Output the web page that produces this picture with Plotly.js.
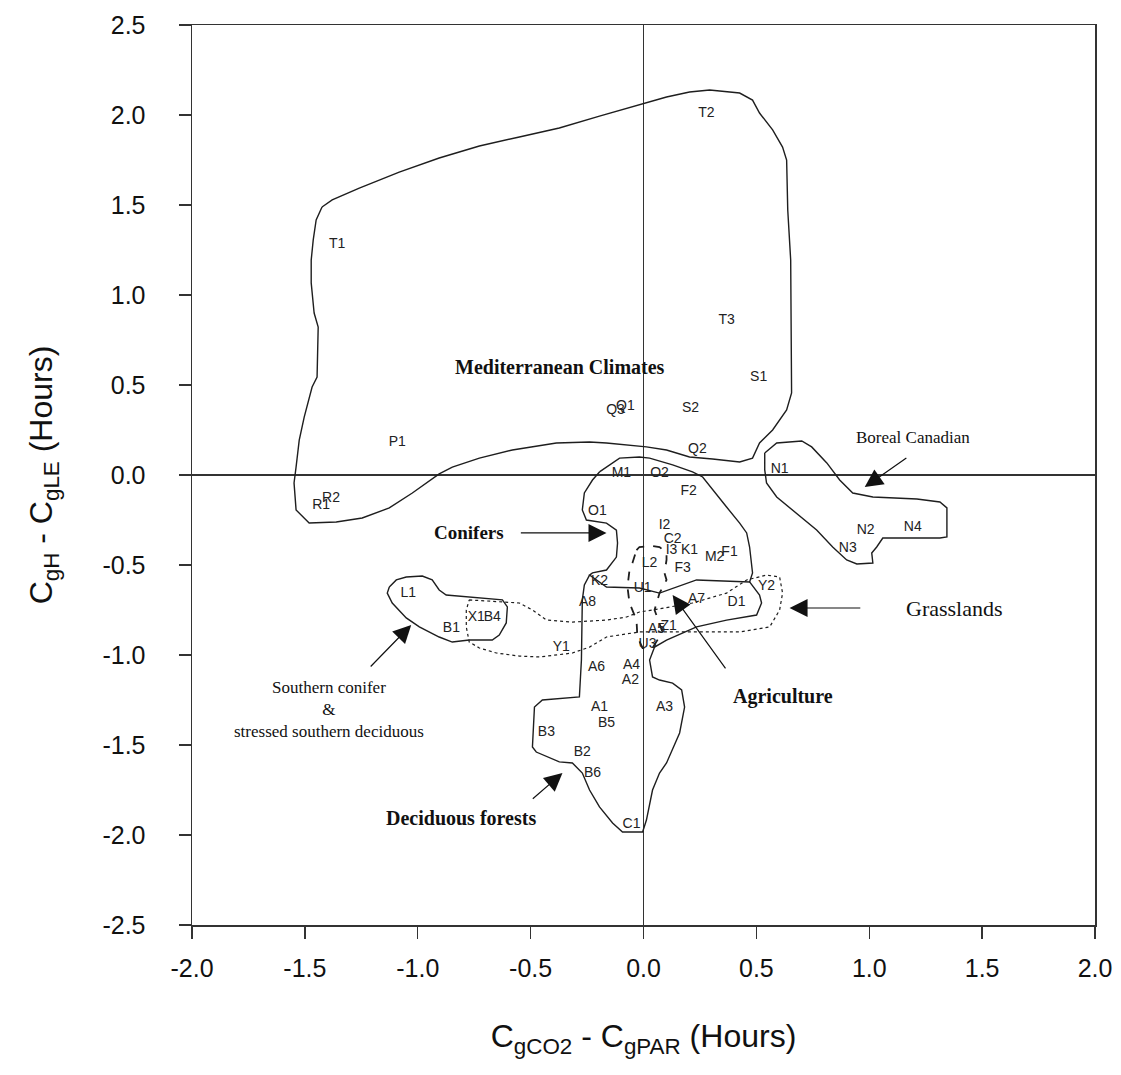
<!DOCTYPE html>
<html>
<head>
<meta charset="utf-8">
<script src="https://cdn.plot.ly/plotly-3.0.1.min.js"></script>
<style>html,body{margin:0;padding:0;background:#fff;}#chart{width:1121px;height:1075px;}</style>
</head>
<body>
<div id="chart"></div>
<script>
// ---- Tick labels ----
const xTickVals = [-2.0,-1.5,-1.0,-0.5,0.0,0.5,1.0,1.5,2.0];
const xTickText = ["-2.0","-1.5","-1.0","-0.5","0.0","0.5","1.0","1.5","2.0"];
const yTickVals = [-2.5,-2.0,-1.5,-1.0,-0.5,0.0,0.5,1.0,1.5,2.0,2.5];
const yTickText = ["-2.5","-2.0","-1.5","-1.0","-0.5","0.0","0.5","1.0","1.5","2.0","2.5"];

// ---- Region outlines (x = CgCO2 - CgPAR, y = CgH - CgLE, hours) ----
const medX = [-1.424,-1.379,-1.259,-1.082,-0.905,-0.727,-0.550,-0.373,-0.195,0.000,0.102,0.204,0.293,0.426,0.483,0.514,0.572,0.616,0.634,0.639,0.652,0.656,0.634,0.572,0.514,0.483,0.426,0.306,0.204,0.102,0.013,-0.164,-0.239,-0.386,-0.581,-0.727,-0.847,-0.905,-1.024,-1.126,-1.246,-1.361,-1.481,-1.539,-1.548,-1.539,-1.525,-1.503,-1.468,-1.446,-1.441,-1.459,-1.472,-1.472,-1.463,-1.450,-1.424];
const medY = [1.489,1.528,1.594,1.683,1.761,1.828,1.878,1.928,1.994,2.061,2.100,2.128,2.139,2.122,2.083,2.011,1.917,1.822,1.750,1.472,1.194,0.456,0.361,0.250,0.178,0.094,0.072,0.089,0.100,0.139,0.156,0.178,0.183,0.178,0.139,0.094,0.044,0.006,-0.100,-0.183,-0.239,-0.261,-0.267,-0.194,-0.044,0.044,0.194,0.322,0.489,0.544,0.822,0.900,1.067,1.194,1.306,1.417,1.489];

const borealX = [0.537,0.590,0.701,0.745,0.812,0.869,0.927,1.016,1.211,1.313,1.344,1.344,1.313,1.060,1.033,1.011,1.016,0.945,0.900,0.838,0.767,0.678,0.590,0.545,0.537,0.537];
const borealY = [0.122,0.178,0.189,0.156,0.067,-0.028,-0.100,-0.122,-0.133,-0.150,-0.183,-0.344,-0.350,-0.350,-0.400,-0.433,-0.489,-0.494,-0.472,-0.400,-0.306,-0.211,-0.122,-0.044,0.028,0.122];

const coniferX = [-0.195,-0.106,-0.018,0.027,0.129,0.217,0.262,0.306,0.368,0.426,0.457,0.470,0.479,0.483,0.470,0.235,0.071,-0.018,-0.164,-0.239,-0.226,-0.164,-0.120,-0.115,-0.120,-0.164,-0.253,-0.271,-0.262,-0.226,-0.195];
const coniferY = [0.017,0.094,0.100,0.094,0.056,0.017,-0.011,-0.083,-0.178,-0.267,-0.322,-0.400,-0.511,-0.544,-0.594,-0.583,-0.656,-0.628,-0.622,-0.556,-0.544,-0.528,-0.456,-0.378,-0.306,-0.267,-0.250,-0.194,-0.100,-0.028,0.017];

const decidX = [-0.239,-0.262,-0.271,-0.275,-0.284,-0.448,-0.483,-0.492,-0.475,-0.373,-0.315,-0.271,-0.239,-0.195,-0.137,-0.093,-0.004,0.013,0.040,0.071,0.102,0.160,0.182,0.169,0.129,0.071,0.040,0.027,0.049,0.102,0.235,0.368,0.501,0.523,0.514,0.483,0.470];
const decidY = [-0.556,-0.611,-0.694,-1.028,-1.233,-1.250,-1.289,-1.511,-1.539,-1.594,-1.600,-1.656,-1.750,-1.844,-1.933,-1.983,-1.983,-1.917,-1.750,-1.656,-1.600,-1.433,-1.289,-1.194,-1.156,-1.139,-1.122,-1.028,-0.956,-0.917,-0.844,-0.806,-0.778,-0.711,-0.667,-0.611,-0.594];

const agriX = [-0.031,-0.018,0.040,0.071,0.102,0.102,0.093,0.102,0.071,0.049,0.084,0.062,0.040,-0.004,-0.027,-0.031,-0.062,-0.071,-0.062,-0.049,-0.040,-0.031];
const agriY = [-0.417,-0.400,-0.394,-0.400,-0.433,-0.472,-0.544,-0.583,-0.656,-0.750,-0.872,-0.917,-0.961,-0.961,-0.900,-0.806,-0.711,-0.622,-0.528,-0.489,-0.456,-0.417];

const grassX = [-0.772,-0.608,-0.550,-0.492,-0.430,-0.315,-0.164,-0.075,-0.018,0.040,0.217,0.368,0.457,0.545,0.603,0.616,0.603,0.559,0.426,0.279,0.129,-0.018,-0.164,-0.239,-0.315,-0.461,-0.550,-0.652,-0.727,-0.772,-0.785,-0.785,-0.772];
const grassY = [-0.694,-0.706,-0.711,-0.750,-0.806,-0.817,-0.806,-0.789,-0.761,-0.750,-0.711,-0.656,-0.583,-0.556,-0.567,-0.656,-0.750,-0.844,-0.872,-0.872,-0.872,-0.872,-0.900,-0.956,-0.989,-1.011,-1.006,-0.989,-0.961,-0.928,-0.844,-0.750,-0.694];

const southX = [-1.126,-1.095,-1.051,-0.980,-0.936,-0.905,-0.874,-0.785,-0.625,-0.603,-0.608,-0.639,-0.670,-0.772,-0.847,-0.905,-0.993,-1.051,-1.113,-1.135,-1.126];
const southY = [-0.622,-0.583,-0.567,-0.561,-0.583,-0.639,-0.667,-0.678,-0.694,-0.733,-0.822,-0.889,-0.917,-0.917,-0.928,-0.900,-0.844,-0.794,-0.711,-0.656,-0.622];

// ---- Site labels ----
const siteNames = ["T2","T1","T3","S1","S2","Q3","Q1","Q2","P1","R2","R1","M1","O2","N1","F2","O1","I2","C2","I3","K1","M2","F1","F3","L2","K2","U1","A7","A8","D1","Y2","Z1","A5","U3","A4","A2","A6","Y1","A1","B5","A3","B3","B2","B6","C1","L1","B1","X1","B4","N2","N3","N4"];
const siteX = [0.279,-1.357,0.368,0.510,0.208,-0.124,-0.080,0.239,-1.091,-1.384,-1.428,-0.098,0.071,0.603,0.200,-0.204,0.093,0.129,0.124,0.204,0.315,0.381,0.173,0.027,-0.195,-0.004,0.235,-0.248,0.412,0.545,0.111,0.058,0.018,-0.053,-0.058,-0.208,-0.364,-0.195,-0.164,0.093,-0.430,-0.271,-0.226,-0.053,-1.042,-0.851,-0.741,-0.670,0.984,0.905,1.193];
const siteY = [2.011,1.278,0.861,0.539,0.367,0.356,0.383,0.139,0.178,-0.128,-0.167,0.011,0.006,0.028,-0.089,-0.200,-0.283,-0.361,-0.422,-0.422,-0.461,-0.428,-0.522,-0.489,-0.594,-0.628,-0.694,-0.711,-0.711,-0.622,-0.839,-0.861,-0.944,-1.056,-1.139,-1.072,-0.956,-1.289,-1.378,-1.289,-1.428,-1.539,-1.661,-1.944,-0.656,-0.850,-0.794,-0.794,-0.306,-0.406,-0.289];

// ---- Group captions ----
const groupNames = ["<b>Mediterranean Climates</b>","Boreal Canadian","<b>Conifers</b>","Grasslands","Southern conifer<br>&<br>stressed southern deciduous","<b>Agriculture</b>","<b>Deciduous forests</b>"];
const groupX = [-0.372,1.193,-0.772,1.379,-1.392,0.616,-0.807];
const groupY = [0.600,0.211,-0.322,-0.739,-1.300,-1.228,-1.906];

// ---- Arrows: tail -> head ----
const arrowTailX = [-0.550,1.171,0.967,-1.215,0.368,-0.497];
const arrowTailY = [-0.322,0.100,-0.739,-1.072,-1.083,-1.806];
const arrowHeadX = [-0.164,0.980,0.647,-1.029,0.129,-0.359];
const arrowHeadY = [-0.322,-0.067,-0.739,-0.833,-0.667,-1.656];

const ink = '#1e1e1e';
function outline(x, y, dash, w) {
  return {x: x, y: y, type: 'scatter', mode: 'lines', hoverinfo: 'skip', showlegend: false,
          line: {color: ink, width: w || 1.4, dash: dash || 'solid'}};
}
const traces = [
  outline(medX, medY),
  outline(borealX, borealY),
  outline(coniferX, coniferY),
  outline(decidX, decidY),
  outline(southX, southY),
  outline(agriX, agriY, 'dash', 1.8),
  outline(grassX, grassY, 'dot', 1.2),
  {x: siteX, y: siteY, text: siteNames, type: 'scatter', mode: 'text', hoverinfo: 'skip', showlegend: false,
   textposition: 'middle center', textfont: {family: 'Liberation Sans, Arial, sans-serif', size: 14, color: '#222'}}
];

const serif = 'Liberation Serif, Times New Roman, serif';
const annotations = [];
const groupSizes = [20, 17, 19, 22, 17, 20, 20];
for (let i = 0; i < groupNames.length; i++) {
  annotations.push({x: groupX[i], y: groupY[i], xref: 'x', yref: 'y', text: groupNames[i], showarrow: false,
    font: {family: serif, size: groupSizes[i], color: '#111'}, align: 'center'});
}
for (let i = 0; i < arrowTailX.length; i++) {
  annotations.push({x: arrowHeadX[i], y: arrowHeadY[i], xref: 'x', yref: 'y',
    ax: arrowTailX[i], ay: arrowTailY[i], axref: 'x', ayref: 'y', text: '', showarrow: true,
    arrowhead: 2, arrowsize: 3, arrowwidth: 1.2, arrowcolor: '#111', standoff: 0, startstandoff: 0});
}

const axisCommon = {
  showgrid: false, zeroline: true, zerolinecolor: '#333', zerolinewidth: 1.5,
  showline: true, linecolor: '#333', linewidth: 1.5, mirror: true,
  ticks: 'outside', ticklen: 12, tickwidth: 1.3, tickcolor: '#333',
  tickmode: 'array',
  tickfont: {family: 'Liberation Sans, Arial, sans-serif', size: 25, color: '#111'},
  automargin: false
};
const layout = {
  width: 1121, height: 1075,
  margin: {l: 192, r: 26, t: 25, b: 150},
  paper_bgcolor: '#fff', plot_bgcolor: '#fff',
  showlegend: false,
  xaxis: Object.assign({}, axisCommon, {range: [-2, 2], tickvals: xTickVals, ticktext: xTickText, ticklabelstandoff: 8,
    title: {text: 'C<sub>gCO2</sub> - C<sub>gPAR</sub> (Hours)', standoff: 44,
      font: {family: 'Liberation Sans, Arial, sans-serif', size: 32, color: '#111'}}}),
  yaxis: Object.assign({}, axisCommon, {range: [-2.5, 2.5], tickvals: yTickVals, ticktext: yTickText, ticklabelstandoff: 28,
    title: {text: 'C<sub>gH</sub> - C<sub>gLE</sub> (Hours)', standoff: 40,
      font: {family: 'Liberation Sans, Arial, sans-serif', size: 32, color: '#111'}}}),
  annotations: annotations
};
Plotly.newPlot('chart', traces, layout, {staticPlot: true, displayModeBar: false});
</script>
</body>
</html>
